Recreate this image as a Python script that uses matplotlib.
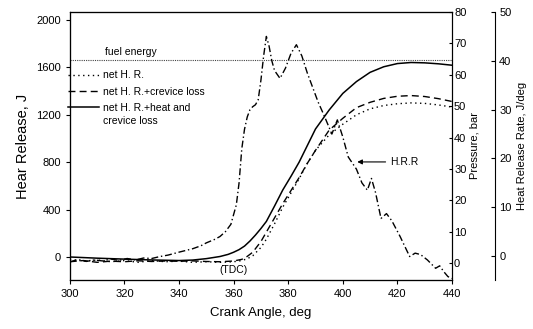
import numpy as np
import matplotlib.pyplot as plt

plt.rcParams['font.family'] = ['Liberation Sans', 'DejaVu Sans']

# crank angle points and curves (J on left axis)
ca_net = [300, 305, 310, 315, 320, 325, 330, 335, 340, 345, 350, 355, 360, 363,
          365, 367, 370, 372, 375, 378, 381, 384, 387, 390, 395, 400, 405, 410,
          415, 420, 425, 430, 435, 440]
net_hr = [-20, -35, -25, -40, -30, -45, -30, -40, -35, -45, -40, -45, -40, -30,
          -15, 10, 80, 150, 280, 420, 540, 660, 790, 900, 1030, 1120, 1200, 1250,
          1278, 1293, 1300, 1296, 1283, 1265]
net_hr_crev = [-40, -30, -45, -35, -40, -32, -38, -34, -36, -33, -38, -40, -34, -20,
               5, 40, 130, 210, 330, 450, 560, 670, 790, 900, 1070, 1170, 1260, 1305,
               1338, 1356, 1362, 1354, 1336, 1312]

ca_tot = [300, 310, 320, 330, 340, 345, 350, 355, 358, 360, 362, 364, 366, 368,
          370, 372, 375, 378, 381, 384, 387, 390, 395, 400, 405, 410, 415, 420,
          425, 430, 435, 440]
net_hr_heat_crev = [0, -10, -18, -25, -30, -26, -14, 4, 22, 40, 62, 92, 135, 185,
                    240, 300, 430, 565, 680, 800, 940, 1080, 1240, 1380, 1480, 1558, 1605, 1632,
                    1641, 1638, 1630, 1618]

# heat release rate, J/deg (far right axis)
ca_hrr = [300, 303, 306, 309, 312, 315, 318, 321, 324, 327, 330, 333, 336, 340,
          345, 348, 350, 353, 355, 357, 359, 360, 361, 362, 363, 364, 365, 366,
          367, 368, 369, 370, 371, 372, 373, 374, 375, 377, 379, 381, 383, 385,
          387, 389, 391, 393, 396, 398, 400, 402, 405, 407, 409, 410.5, 412, 414,
          416, 418, 421, 424.5, 426.5, 428.5, 431, 434, 435.5, 437, 438.5, 440]
hrr = [-1.2, -0.7, -1.1, -0.8, -1.0, -0.6, -0.9, -0.5, -0.8, -0.4, -0.5, -0.1, 0.2, 0.8,
       1.5, 2.1, 2.7, 3.4, 4.0, 5.0, 6.5, 8.5, 10.5, 15, 22, 26, 28.5, 30,
       30.6, 31, 32, 36, 41, 45, 43, 40, 38, 36.4, 38.5, 41.5, 43.3, 41,
       37.5, 34.5, 31.5, 29, 25, 27.9, 24.4, 20.3, 17.8, 15, 13.5, 15.9, 13.0, 7.7,
       8.7, 7.2, 4.0, -0.1, 0.6, 0.3, -0.8, -2.5, -2.0, -3.2, -4.2, -4.6]

fuel_energy = 1662

fig = plt.figure(figsize=(5.33, 3.29), dpi=100)
ax = fig.add_axes([0.131, 0.149, 0.717, 0.8145])

l1, = ax.plot(ca_net, net_hr, color='k', lw=1.0, linestyle=(0, (1, 2.5)), label='net H. R.')
l2, = ax.plot(ca_net, net_hr_crev, color='k', lw=1.0, linestyle=(0, (5, 3)),
              label='net H. R.+crevice loss')
l3, = ax.plot(ca_tot, net_hr_heat_crev, color='k', lw=1.1,
              label='net H. R.+heat and')
ax.axhline(fuel_energy, color='#444444', lw=0.8, linestyle=(0, (1, 1)))

ax.set_xlim(300, 440)
ax.set_ylim(-194, 2067)
ax.set_xticks(np.arange(300, 441, 20))
ax.set_yticks(np.arange(0, 2001, 400))
ax.tick_params(direction='out', length=3, labelsize=8)
ax.set_xlabel('Crank Angle, deg', fontsize=9.5, labelpad=6)
ax.set_ylabel('Hear Release, J', fontsize=10.5, labelpad=4)

ax.text(312.8, 1730, 'fuel energy', fontsize=7.5, va='center')
ax.text(360, -110, '(TDC)', fontsize=7.5, ha='center', va='center')
ax.annotate('H.R.R', xy=(405.3, 802), xytext=(417.2, 802), fontsize=7.5, va='center',
            arrowprops=dict(arrowstyle='-|>', color='k', lw=0.8, mutation_scale=7,
                            shrinkA=1, shrinkB=0))

leg = ax.legend(handles=[l1, l2, l3], loc='upper left', bbox_to_anchor=(-0.005, 0.782),
                frameon=False, fontsize=7.5, handlelength=3.0, handletextpad=0.4,
                labelspacing=0.6, borderaxespad=0.0, borderpad=0.0)
# second line of the last legend label
ax.text(312.1, 1150, 'crevice loss', fontsize=7.5, va='center')

# pressure axis (no curve drawn)
ax2 = ax.twinx()
ax2.set_ylim(-5.4, 80)
ax2.set_yticks(np.arange(0, 81, 10))
ax2.tick_params(direction='in', length=2.5, labelsize=8, pad=1.5)
ax2.set_ylabel('Pressure, bar', fontsize=8, labelpad=2)

# heat release rate axis
ax3 = ax.twinx()
ax3.spines['right'].set_position(('axes', 1.1126))
ax3.plot(ca_hrr, hrr, color='k', lw=1.0, linestyle=(0, (5, 2, 1, 2)))
ax3.set_ylim(-4.9, 50)
ax3.set_yticks(np.arange(0, 51, 10))
ax3.tick_params(direction='in', length=3, labelsize=8, pad=3)
ax3.set_ylabel('Heat Release Rate, J/deg', fontsize=8, labelpad=4)

fig.savefig('out.png', dpi=100)
